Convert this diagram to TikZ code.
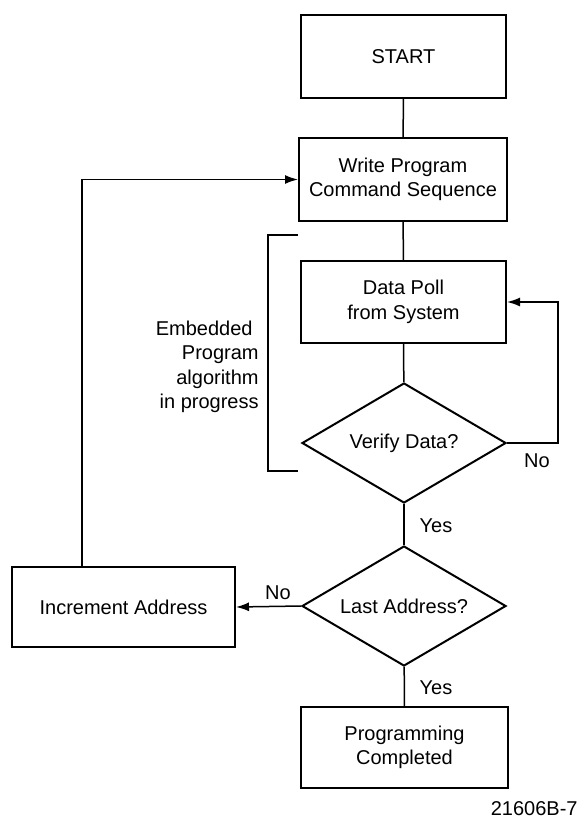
\documentclass[tikz,border=0pt]{standalone}
\usepackage{fontspec}
\setmainfont{Liberation Sans}
\usetikzlibrary{shapes.geometric,arrows.meta}
\begin{document}
\begin{tikzpicture}[x=0.5pt,y=-0.5pt,
  every node/.style={font=\fontsize{10}{12.2}\selectfont, inner sep=0pt},
  box/.style={draw, line width=1pt, align=center},
  dec/.style={draw, diamond, line width=1pt, minimum width=102pt, minimum height=60pt, aspect=1.7},
  link/.style={line width=0.75pt},
  arr/.style={link, -{Latex[length=6.5pt,width=4.5pt]}}]
\useasboundingbox (0,0) rectangle (580,819);
\node[box, minimum width=102.5pt, minimum height=41.5pt] (start) at (403.5,56.5) {START};
\node[box, minimum width=104pt, minimum height=41.5pt] (write) at (403,179.5) {Write Program\\Command Sequence};
\node[box, minimum width=102.5pt, minimum height=41pt] (poll) at (403.5,302) {Data Poll\\from System};
\node[dec] (verify) at (404,443) {Verify Data?};
\node[dec] (last) at (404,606) {Last Address?};
\node[box, minimum width=111.5pt, minimum height=40pt] (inc) at (123.5,607) {Increment Address};
\node[box, minimum width=103.5pt, minimum height=40.5pt] (prog) at (404.5,747.5) {Programming\\Completed};
\node[align=right, anchor=east] (emb) at (259,367) {Embedded\hspace*{0.3em}\\Program\\algorithm\\in progress};
\node[anchor=east] (fig) at (578,809) {21606B-7};

\draw[link] (start) -- (write);
\draw[link] (write) -- (poll);
\draw[link] (poll) -- (verify);
\draw[link] (verify) -- (last);
\draw[link] (last) -- (prog);
\draw[arr] (verify.east) -- ++(51,0) |- (poll.east);
\draw[arr] (last.west) -- (inc.east);
\draw[arr] (inc.north west) ++(71,0) |- (write.west);
\draw[link] (298,235) -- (268,235) -- (268,471) -- (298,471);

\node (yes1) at (436,526) {Yes};
\node (yes2) at (436,688) {Yes};
\node (no1) at (537,461) {No};
\node (no2) at (278,593) {No};
\end{tikzpicture}
\end{document}
